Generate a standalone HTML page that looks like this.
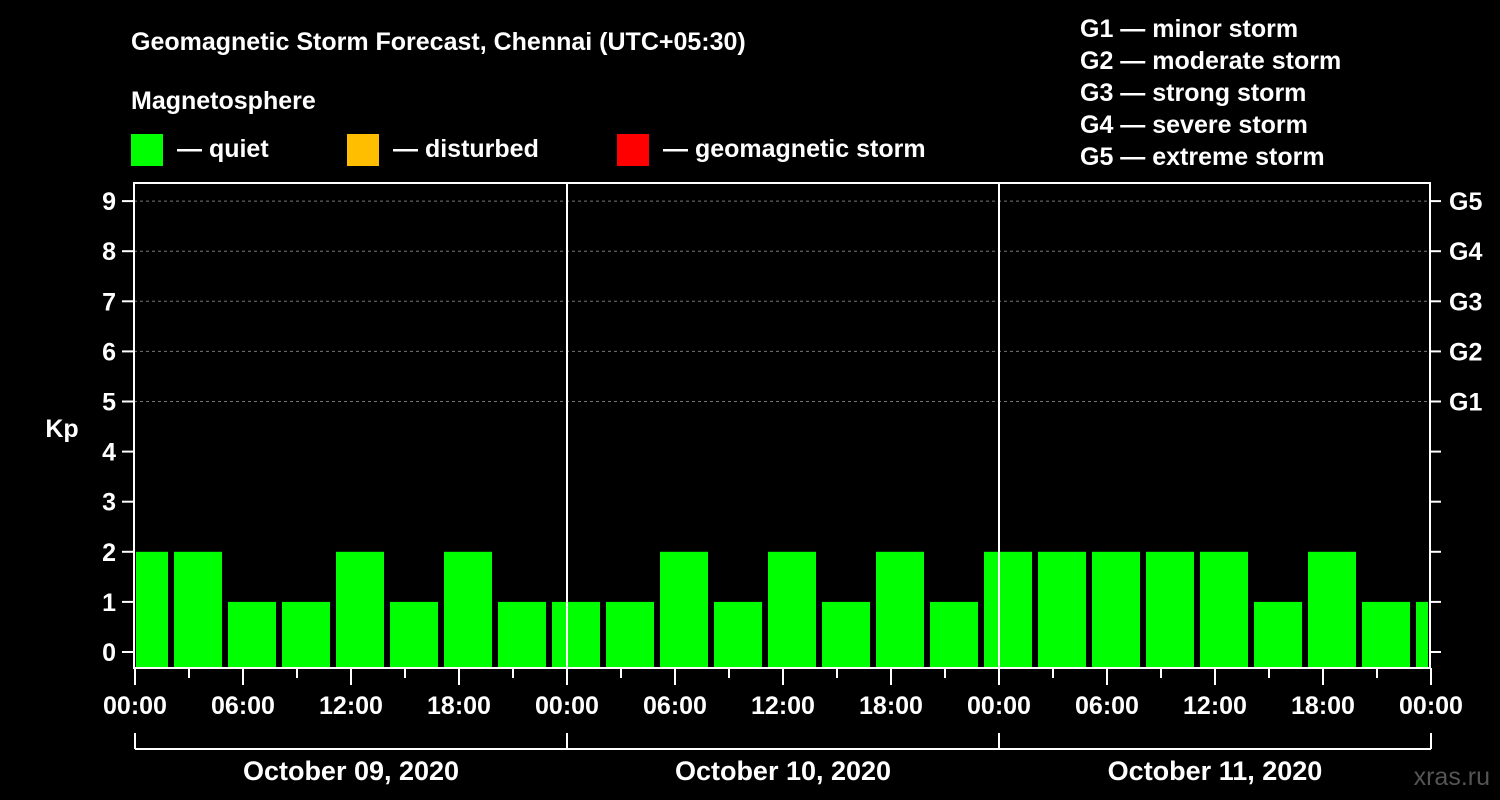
<!DOCTYPE html>
<html><head><meta charset="utf-8"><style>
body{margin:0;background:#000;}
svg{display:block;font-family:"Liberation Sans",Arial,sans-serif;font-weight:bold;}
</style></head><body>
<svg id="c" width="1500" height="800" viewBox="0 0 1500 800">
<rect width="1500" height="800" fill="#000"/>
<text x="131" y="50" font-size="25" fill="#fff">Geomagnetic Storm Forecast, Chennai (UTC+05:30)</text>
<text x="131" y="109" font-size="25" fill="#fff">Magnetosphere</text>
<g><rect x="131" y="134" width="32" height="32" fill="#00ff00"/><text x="177" y="157" font-size="25" fill="#fff">— quiet</text></g>
<g><rect x="347" y="134" width="32" height="32" fill="#ffbf00"/><text x="393" y="157" font-size="25" fill="#fff">— disturbed</text></g>
<g><rect x="617" y="134" width="32" height="32" fill="#ff0000"/><text x="663" y="157" font-size="25" fill="#fff">— geomagnetic storm</text></g>
<g font-size="25" fill="#fff">
<text x="1080" y="37">G1 — minor storm</text>
<text x="1080" y="69">G2 — moderate storm</text>
<text x="1080" y="101">G3 — strong storm</text>
<text x="1080" y="133">G4 — severe storm</text>
<text x="1080" y="165">G5 — extreme storm</text>
</g>
<text x="62" y="437" font-size="25" fill="#fff" text-anchor="middle">Kp</text>
<text x="1490" y="785" font-size="25" fill="#555" text-anchor="end" font-weight="normal">xras.ru</text>
<g id="grid"></g><g id="bars"></g><g id="axes"></g>
</svg>
<script>
const kpValues=[2,2,1,1,2,1,2,1,1,1,2,1,2,1,2,1,2,2,2,2,2,1,2,1,1];
const yTicks=[0,1,2,3,4,5,6,7,8,9];
const gLabels=["G1","G2","G3","G4","G5"];
const timeLabels=["00:00","06:00","12:00","18:00","00:00","06:00","12:00","18:00","00:00","06:00","12:00","18:00","00:00"];
const dateLabels=["October 09, 2020","October 10, 2020","October 11, 2020"];
const NS="http://www.w3.org/2000/svg";
const L=134,R=1430,T=183,B=668;
const x0=135, pxPerHour=18;
const yScale=v=>652-v*50.1;
const xScale=h=>x0+h*pxPerHour;
function mk(tag,attrs,parent){const e=document.createElementNS(NS,tag);for(const k in attrs)e.setAttribute(k,attrs[k]);document.getElementById(parent).appendChild(e);return e;}
// grid
yTicks.forEach(v=>{ if(v>=5){const g=mk('line',{x1:L,x2:R,y1:yScale(v),y2:yScale(v),stroke:'#777','stroke-dasharray':'3,3','stroke-width':1},'grid');

}});
// bars: 3h slots starting at local 02:00 - 3h
kpValues.forEach((v,i)=>{
 const s=xScale(-1+3*i)+3, e=xScale(2+3*i)-3;
 const a=Math.max(s,L+2), b=Math.min(e,R-2);
 const col=v>=5?'#ff0000':(v>=4?'#ffbf00':'#00ff00');
 const r=mk('rect',{x:a,y:yScale(v),width:b-a,height:B-yScale(v),fill:col},'bars');
 
 
});
// frame
const f=mk('rect',{x:L,y:T,width:R-L,height:B-T,fill:'none',stroke:'#fff','stroke-width':2},'axes');


[1,2].forEach(d=>{const l=mk('line',{x1:xScale(24*d),x2:xScale(24*d),y1:T,y2:B,stroke:'#fff','stroke-width':2},'axes');

});
yTicks.forEach(v=>{
 const y=yScale(v);
 mk('line',{x1:122,x2:L,y1:y,y2:y,stroke:'#fff','stroke-width':2},'axes');
 mk('line',{x1:R,x2:1441,y1:y,y2:y,stroke:'#fff','stroke-width':2},'axes');
 const t=mk('text',{x:116,y:y+9,'font-size':25,fill:'#fff','text-anchor':'end'},'axes');t.textContent=v;
 
 
 if(v>=5){const g=mk('text',{x:1449,y:y+9,'font-size':25,fill:'#fff'},'axes');g.textContent=gLabels[v-5];
 
 }
});
for(let h=0;h<=72;h+=3){
 const x=xScale(h), major=h%6===0;
 mk('line',{x1:x,x2:x,y1:B,y2:major?685:678,stroke:'#fff','stroke-width':2},'axes');
}
timeLabels.forEach((s,i)=>{const t=mk('text',{x:xScale(6*i),y:714,'font-size':25,fill:'#fff','text-anchor':'middle'},'axes');t.textContent=s;
 
 });
mk('line',{x1:xScale(0),x2:xScale(72),y1:749,y2:749,stroke:'#fff','stroke-width':2},'axes');
for(let d=0;d<=3;d++)mk('line',{x1:xScale(24*d),x2:xScale(24*d),y1:733,y2:749,stroke:'#fff','stroke-width':2},'axes');
dateLabels.forEach((s,i)=>{const t=mk('text',{x:xScale(24*i+12),y:780,'font-size':27,fill:'#fff','text-anchor':'middle'},'axes');t.textContent=s;
 
 });
</script>
</body></html>
